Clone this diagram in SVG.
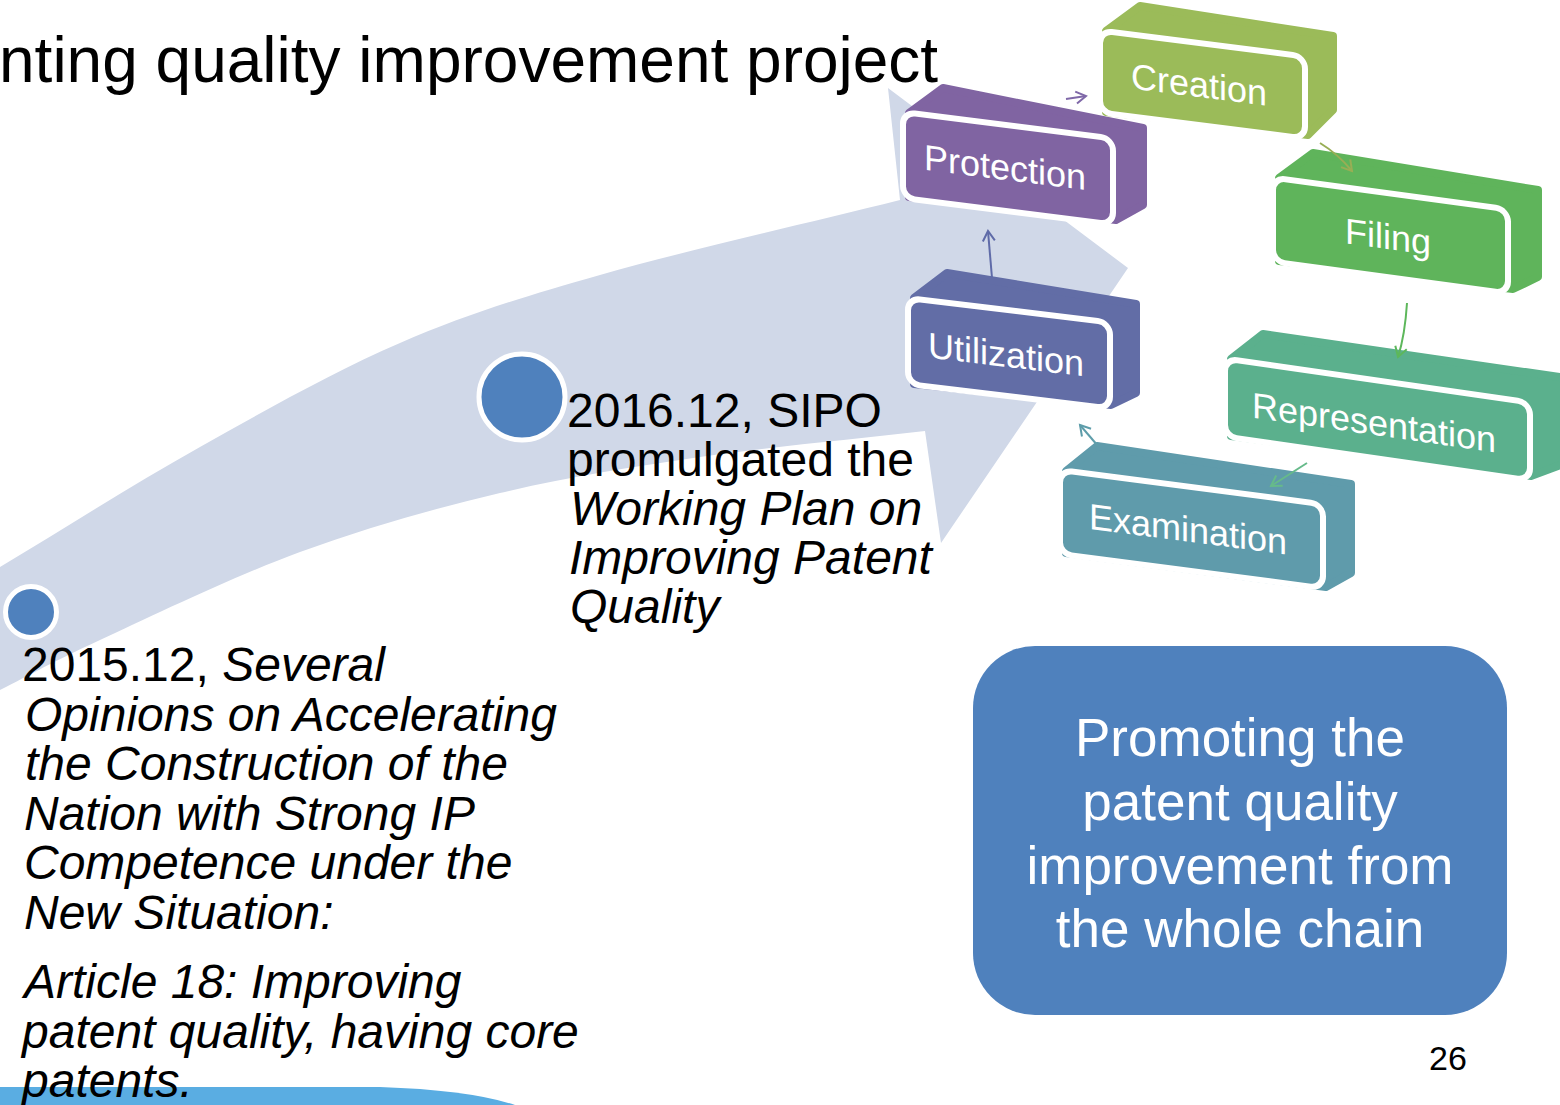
<svg xmlns="http://www.w3.org/2000/svg" width="1560" height="1105" viewBox="0 0 1560 1105">
<style>
text{font-family:"Liberation Sans",Arial,sans-serif}
.title{font-size:64px;fill:#000}
.body{font-size:48px;fill:#000}
.it{font-style:italic}
.lbl{font-size:36px;fill:#fff;text-anchor:middle}
.face{stroke:#fff;stroke-width:6}
.ext{stroke-width:8;stroke-linejoin:round}
.con{fill:none;stroke-width:2}
.dot{fill:#4F81BD;stroke:#fff;stroke-width:5}
.big{font-size:53px;fill:#fff;text-anchor:middle}
</style>
<defs>
<marker id="mPur" markerUnits="userSpaceOnUse" markerWidth="16" markerHeight="16" refX="0" refY="0" viewBox="-12 -8 14 16" orient="auto"><path d="M-10,-6 L0,0 L-10,6" fill="none" stroke="#7F68A8" stroke-width="2"/></marker>
<marker id="mOli" markerUnits="userSpaceOnUse" markerWidth="16" markerHeight="16" refX="0" refY="0" viewBox="-12 -8 14 16" orient="auto"><path d="M-10,-6 L0,0 L-10,6" fill="none" stroke="#98AE55" stroke-width="2"/></marker>
<marker id="mGrn" markerUnits="userSpaceOnUse" markerWidth="16" markerHeight="16" refX="0" refY="0" viewBox="-12 -8 14 16" orient="auto"><path d="M-10,-6 L0,0 L-10,6" fill="none" stroke="#5DB75B" stroke-width="2"/></marker>
<marker id="mMint" markerUnits="userSpaceOnUse" markerWidth="16" markerHeight="16" refX="0" refY="0" viewBox="-12 -8 14 16" orient="auto"><path d="M-10,-6 L0,0 L-10,6" fill="none" stroke="#66BA8A" stroke-width="2"/></marker>
<marker id="mTeal" markerUnits="userSpaceOnUse" markerWidth="16" markerHeight="16" refX="0" refY="0" viewBox="-12 -8 14 16" orient="auto"><path d="M-10,-6 L0,0 L-10,6" fill="none" stroke="#5E9DAA" stroke-width="2"/></marker>
<marker id="mInd" markerUnits="userSpaceOnUse" markerWidth="16" markerHeight="16" refX="0" refY="0" viewBox="-12 -8 14 16" orient="auto"><path d="M-10,-6 L0,0 L-10,6" fill="none" stroke="#5F6BA8" stroke-width="2"/></marker>
</defs>
<rect width="1560" height="1105" fill="#fff"/>

<!-- big curved arrow -->
<path id="bigArrow" fill="#D0D8E8" d="M0,567 C66.7,527 133.3,484.3 200,447 C266.7,409.7 333.3,371.7 400,343 C466.7,314.3 516.7,298.8 600,275 C683.3,251.2 800,225 900,200 L888,88 L1128,268 L941,543 L925,431 C850,439.7 770.8,446.7 700,457 C629.2,467.3 566.7,477.2 500,493 C433.3,508.8 366.7,527.5 300,552 C233.3,576.5 150,617 100,640 C50,663 33.3,673.3 0,690 Z"/>

<!-- bottom band -->
<path d="M0,1087 L380,1087 Q470,1090 515,1105 L0,1105 Z" fill="#5AADE2"/>

<text class="title" x="-1" y="82">nting quality improvement project</text>

<g id="dot2015"><circle class="dot" cx="31" cy="612" r="25.5"/></g>
<g id="dot2016"><circle class="dot" cx="522" cy="397" r="43"/></g>

<g id="text2016">
<text class="body" x="567" y="427">2016.12, SIPO</text>
<text class="body" x="567" y="476">promulgated the</text>
<text class="body it" x="570" y="525">Working Plan on</text>
<text class="body it" x="569" y="574">Improving Patent</text>
<text class="body it" x="570" y="623">Quality</text>
</g>

<g id="text2015">
<text class="body" x="22" y="681">2015.12, <tspan class="it">Several</tspan></text>
<text class="body it" x="25" y="730.5">Opinions on Accelerating</text>
<text class="body it" x="25" y="780">the Construction of the</text>
<text class="body it" x="24" y="829.5">Nation with Strong IP</text>
<text class="body it" x="24" y="879">Competence under the</text>
<text class="body it" x="24" y="928.5">New Situation:</text>
<text class="body it" x="24" y="998">Article 18: Improving</text>
<text class="body it" x="22" y="1047.5">patent quality, having core</text>
<text class="body it" x="22" y="1097">patents.</text>
</g>

<!-- chain boxes -->
<g id="protection">
<polygon class="ext" fill="#8064A2" stroke="#8064A2" points="909,113 943,88 1143,128 1143,205 1116,220 909,197"/>
<g transform="translate(903,112) skewY(7.2)">
<rect class="face" fill="#8064A2" x="0" y="0" width="210" height="86" rx="12"/>
<text class="lbl" x="102" y="55">Protection</text>
</g>
</g>

<g id="creation">
<polygon class="ext" fill="#9BBB59" stroke="#9BBB59" points="1106,31 1140,6 1333,36 1333,110 1308,135 1106,112"/>
<g transform="translate(1100,30.5) skewY(7.24)">
<rect class="face" fill="#9BBB59" x="0" y="0" width="205" height="82" rx="12"/>
<text class="lbl" x="99" y="54">Creation</text>
</g>
</g>

<g id="utilization">
<polygon class="ext" fill="#626DA6" stroke="#626DA6" points="914,298 947,273 1136,304 1136,393 1111,405 914,384"/>
<g transform="translate(908,298) skewY(6.9)">
<rect class="face" fill="#626DA6" x="0" y="0" width="202" height="86" rx="12"/>
<text class="lbl" x="98" y="57">Utilization</text>
</g>
</g>

<g id="filing">
<polygon class="ext" fill="#5FB45B" stroke="#5FB45B" points="1279,178 1313,153 1538,190 1538,277 1513,289 1279,261"/>
<g transform="translate(1273,177.5) skewY(7.74)">
<rect class="face" fill="#5FB45B" x="0" y="0" width="235" height="84" rx="12"/>
<text class="lbl" x="115" y="56">Filing</text>
</g>
</g>

<g id="representation">
<polygon class="ext" fill="#5BB08D" stroke="#5BB08D" points="1231,359 1263,334 1566,378 1566,463 1531,476 1231,436"/>
<g transform="translate(1225,358.5) skewY(8.2)">
<rect class="face" fill="#5BB08D" x="0" y="0" width="305" height="78" rx="12"/>
<text class="lbl" x="149" y="55">Representation</text>
</g>
</g>

<g id="examination">
<polygon class="ext" fill="#5F9BAB" stroke="#5F9BAB" points="1066,471 1097,446 1351,484 1351,573 1326,587 1066,553"/>
<g transform="translate(1060,470) skewY(7.41)">
<rect class="face" fill="#5F9BAB" x="0" y="0" width="263" height="84" rx="12"/>
<text class="lbl" x="128" y="55">Examination</text>
</g>
</g>

<!-- connectors -->
<g id="connectors">
<path class="con" stroke="#7F68A8" marker-end="url(#mPur)" d="M1066,99 L1086,96"/>
<path class="con" stroke="#98AE55" marker-end="url(#mOli)" d="M1320,143 Q1338,154 1352,171"/>
<path class="con" stroke="#5DB75B" marker-end="url(#mGrn)" d="M1407,303 Q1405,335 1398,357"/>
<path class="con" stroke="#66BA8A" marker-end="url(#mMint)" d="M1307,463 L1271,486"/>
<path class="con" stroke="#5E9DAA" marker-end="url(#mTeal)" d="M1098,446 L1080,425"/>
<path class="con" stroke="#5F6BA8" marker-end="url(#mInd)" d="M992,278 L988,231"/>
</g>

<g id="summary">
<rect x="973" y="646" width="534" height="369" rx="62" fill="#4F81BD"/>
<text class="big" x="1240" y="756">Promoting the</text>
<text class="big" x="1240" y="820">patent quality</text>
<text class="big" x="1240" y="884">improvement from</text>
<text class="big" x="1240" y="947">the whole chain</text>
</g>

<text x="1429" y="1070" style="font-size:34px;fill:#000">26</text>
</svg>
